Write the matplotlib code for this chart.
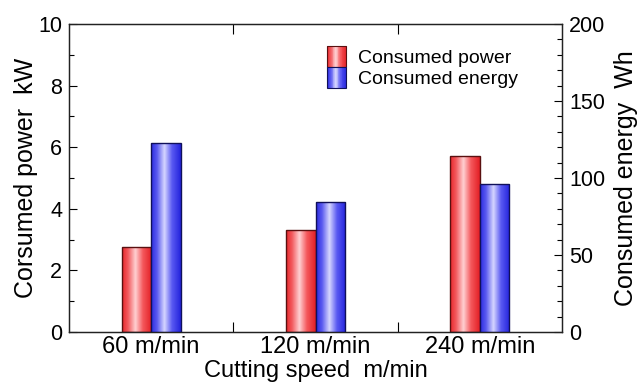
import numpy as np
import matplotlib
matplotlib.use("Agg")
import matplotlib.pyplot as plt
from matplotlib.patches import Rectangle
from matplotlib.legend_handler import HandlerBase
from matplotlib.colors import LinearSegmentedColormap
from matplotlib.ticker import MultipleLocator

categories = ["60 m/min", "120 m/min", "240 m/min"]
power_kw = [2.75, 3.30, 5.72]
energy_wh = [122.5, 84.6, 95.9]

plt.rcParams['font.family'] = ['Liberation Sans', 'DejaVu Sans']

red_cmap = LinearSegmentedColormap.from_list(
    "redg", [(0, "#e8262a"), (0.2, "#f25a5e"), (0.45, "#ffd0d2"), (0.7, "#f5585c"), (1, "#e21e24")])
blue_cmap = LinearSegmentedColormap.from_list(
    "blueg", [(0, "#2a2ae0"), (0.2, "#5a5af0"), (0.45, "#d6d6ff"), (0.7, "#5a5af2"), (1, "#2222dc")])
grad = np.linspace(0, 1, 256).reshape(1, -1)

fig = plt.figure(figsize=(6.41, 3.83), dpi=100)
ax = fig.add_axes([0.1076, 0.1332, 0.7692, 0.8041])
ax2 = ax.twinx()

x = np.arange(len(categories))
w = 0.18

def gradient_bars(axis, xs, heights, cmap, edge):
    bars = axis.bar(xs, heights, width=w, facecolor='none', edgecolor=edge, linewidth=1.0, zorder=3)
    for b in bars:
        x0, y0 = b.get_x(), b.get_y()
        im = axis.imshow(grad, cmap=cmap, extent=[x0, x0 + b.get_width(), y0, y0 + b.get_height()],
                         aspect='auto', zorder=2, interpolation='bilinear')
        im.set_clip_path(b)
    return bars

gradient_bars(ax, x - w / 2, power_kw, red_cmap, "#5a1010")
gradient_bars(ax2, x + w / 2, energy_wh, blue_cmap, "#10105a")

ax.set_xlim(-0.5, 2.5)
ax.set_ylim(0, 10)
ax2.set_ylim(0, 200)

ax.set_xticks(x)
ax.set_xticklabels(categories, fontsize=17)
ax.set_xticks([0.5, 1.5], minor=True)
ax.tick_params(axis='x', which='major', length=0, pad=3)
ax.tick_params(axis='x', which='minor', direction='in', length=7, top=True, bottom=True, width=0.8)

ax.yaxis.set_major_locator(MultipleLocator(2))
ax.yaxis.set_minor_locator(MultipleLocator(1))
ax.tick_params(axis='y', which='major', direction='in', length=6, labelsize=15.5, width=0.8, pad=5)
ax.tick_params(axis='y', which='minor', direction='in', length=3.6, width=0.8)

ax2.yaxis.set_major_locator(MultipleLocator(50))
ax2.yaxis.set_minor_locator(MultipleLocator(10))
ax2.tick_params(axis='y', which='major', direction='in', length=6, labelsize=15.5, width=0.8, pad=5)
ax2.tick_params(axis='y', which='minor', direction='in', length=3.6, width=0.8)

for a in (ax, ax2):
    for s in a.spines.values():
        s.set_linewidth(0.9)
        s.set_color("#222222")

ax.set_xlabel("Cutting speed  m/min", fontsize=17)
ax.xaxis.set_label_coords(0.5, -0.092)
ax.set_ylabel("Corsumed power  kW", fontsize=18)
ax.yaxis.set_label_coords(-0.063, 0.5)
ax2.set_ylabel("Consumed energy  Wh", fontsize=18)
ax2.yaxis.set_label_coords(1.106, 0.5)

class GradHandler(HandlerBase):
    def __init__(self, cmap, edge):
        super().__init__()
        self.cmap = cmap
        self.edge = edge
    def create_artists(self, legend, orig_handle, xdescent, ydescent, width, height, fontsize, trans):
        n = 24
        arts = []
        for i in range(n):
            r = Rectangle((-xdescent + width * i / n, -ydescent - 1.5), width / n + 0.3, height + 3,
                          facecolor=self.cmap((i + 0.5) / n), edgecolor='none', transform=trans)
            arts.append(r)
        arts.append(Rectangle((-xdescent, -ydescent - 1.5), width, height + 3, facecolor='none',
                              edgecolor=self.edge, linewidth=0.8, transform=trans))
        return arts

h1 = Rectangle((0, 0), 1, 1)
h2 = Rectangle((0, 0), 1, 1)
leg = ax.legend([h1, h2], ["Consumed power", "Consumed energy"],
                handler_map={h1: GradHandler(red_cmap, "#5a1010"), h2: GradHandler(blue_cmap, "#10105a")},
                loc='upper left', bbox_to_anchor=(327 / 641, 1 - 48 / 383), bbox_transform=fig.transFigure,
                frameon=False, fontsize=14, handlelength=1.0, handleheight=0.93,
                handletextpad=0.6, labelspacing=0.12, borderaxespad=0, borderpad=0)

fig.savefig("out.png", dpi=100)
